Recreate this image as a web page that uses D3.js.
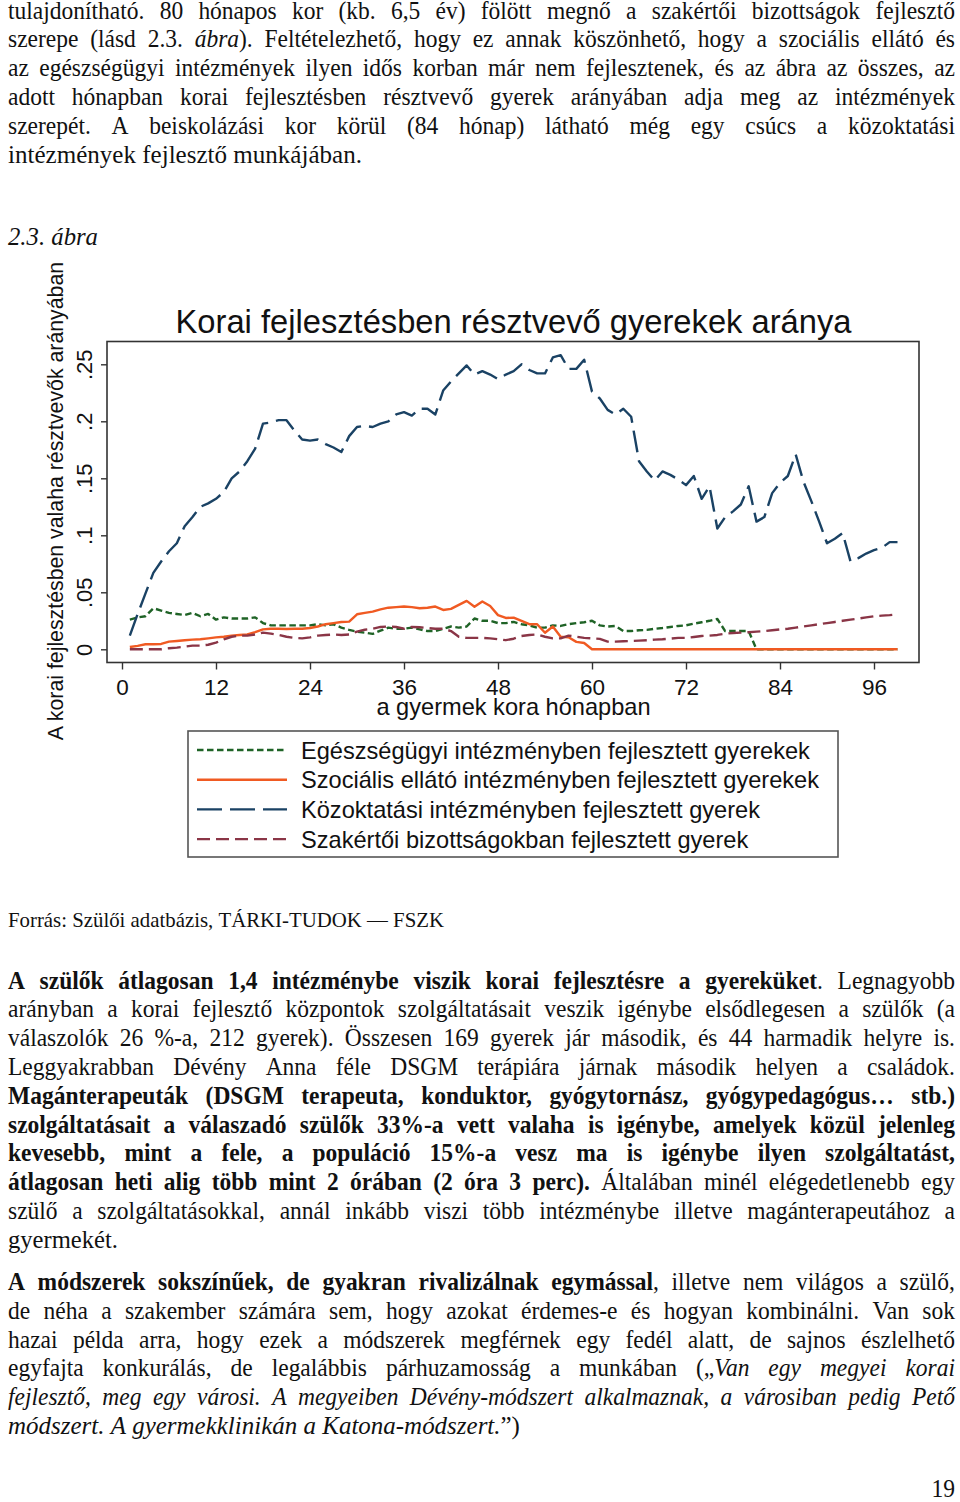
<!DOCTYPE html>
<html><head><meta charset="utf-8">
<script src="https://cdn.jsdelivr.net/npm/d3@7"></script>
<style>body{margin:0;background:#fff} svg{display:block}</style>
</head><body>
<svg id="page" width="960" height="1502"></svg>
<script>
// ---------------- DATA ----------------
const months = d3.range(1, 100);
const xTicks = [0, 12, 24, 36, 48, 60, 72, 84, 96];
const yTicks = [0, 0.05, 0.1, 0.15, 0.2, 0.25];
const yTickLabels = ["0", ".05", ".1", ".15", ".2", ".25"];

const healthSeries = [0.026,0.028,0.029,0.036,0.034,0.032,0.031,0.030,0.032,0.029,
0.031,0.026,0.028,0.027,0.027,0.027,0.028,0.023,0.021,0.021,
0.021,0.021,0.021,0.021,0.022,0.021,0.022,0.019,0.017,0.0155,
0.0146,0.0135,0.0164,0.019,0.018,0.018,0.019,0.0175,0.016,0.016,
0.018,0.020,0.019,0.020,0.027,0.025,0.025,0.023,0.023,0.024,
0.022,0.021,0.019,0.019,0.021,0.0205,0.022,0.023,0.0237,0.025,
0.021,0.020,0.0205,0.016,0.016,0.0167,0.017,0.018,0.0187,0.0196,
0.0205,0.021,0.0225,0.0237,0.025,0.0266,0.016,0.016,0.016,0.016,
0,0,0,0,0,0,0,0,0,0,0,0,0,0,0,0,0,0,0];

const socialSeries = [0.002,0.003,0.0044,0.0044,0.0047,0.0067,0.0073,0.0079,0.0085,0.0088,
0.0096,0.0105,0.011,0.012,0.0126,0.013,0.015,0.0175,0.018,0.018,
0.0178,0.018,0.018,0.0187,0.020,0.022,0.023,0.024,0.0243,0.0307,
0.032,0.033,0.035,0.0365,0.037,0.0375,0.037,0.036,0.0365,0.0375,
0.0345,0.0355,0.039,0.0425,0.0374,0.042,0.038,0.030,0.0275,0.0278,
0.025,0.022,0.022,0.0145,0.020,0.011,0.0105,0.0065,0.0055,0,
0,0,0,0,0,0,0,0,0,0,0,0,0,0,0,0,0,0,0,0,
0,0,0,0,0,0,0,0,0,0,0,0,0,0,0,0,0,0,0];

const schoolSeries = [0.012,0.031,0.049,0.067,0.077,0.086,0.093,0.108,0.116,0.125,
0.128,0.132,0.138,0.150,0.156,0.165,0.176,0.198,0.199,0.201,
0.201,0.192,0.184,0.183,0.184,0.180,0.177,0.173,0.187,0.195,
0.196,0.195,0.198,0.200,0.206,0.208,0.205,0.211,0.211,0.206,
0.227,0.235,0.242,0.249,0.241,0.244,0.241,0.237,0.241,0.244,
0.250,0.245,0.242,0.242,0.256,0.258,0.246,0.246,0.254,0.226,
0.220,0.210,0.206,0.211,0.204,0.165,0.156,0.148,0.156,0.153,
0.149,0.144,0.152,0.132,0.143,0.106,0.116,0.121,0.127,0.143,
0.112,0.116,0.137,0.146,0.152,0.171,0.147,0.130,0.112,0.093,
0.097,0.102,0.077,0.080,0.084,0.087,0.089,0.094,0.094];

const expertSeries = [0,0,0,0,0,0.0009,0.0015,0.0023,0.0032,0.0032,
0.004,0.0058,0.0088,0.011,0.012,0.012,0.013,0.0146,0.0137,0.0126,
0.011,0.010,0.0096,0.0105,0.012,0.0126,0.013,0.0126,0.013,0.0155,
0.0172,0.018,0.0196,0.020,0.0196,0.018,0.0196,0.0193,0.0187,0.018,
0.018,0.016,0.011,0.010,0.010,0.010,0.0096,0.0088,0.008,0.0093,
0.0117,0.0126,0.013,0.011,0.0096,0.0096,0.012,0.011,0.010,0.0096,
0.0091,0.0067,0.0067,0.007,0.0073,0.0076,0.008,0.0085,0.0088,0.0094,
0.010,0.010,0.0108,0.0117,0.012,0.0126,0.0137,0.0143,0.0146,0.015,
0.0155,0.016,0.0167,0.0175,0.018,0.019,0.020,0.021,0.022,0.023,
0.024,0.025,0.026,0.027,0.028,0.029,0.0295,0.030,0.0307];

const seriesNames = [
  "Egészségügyi intézményben fejlesztett gyerekek",
  "Szociális ellátó intézményben fejlesztett gyerekek",
  "Közoktatási intézményben fejlesztett gyerek",
  "Szakértői bizottságokban fejlesztett gyerek"
];
const chartTitle = "Korai fejlesztésben résztvevő gyerekek aránya";
const xTitle = "a gyermek kora hónapban";
const yTitle = "A korai fejlesztésben valaha résztvevők arányában";

// ---------------- TEXT ----------------
const para1 = [
  [["tulajdonítható. 80 hónapos kor (kb. 6,5 év) fölött megnő a szakértői bizottságok fejlesztő","n"]],
  [["szerepe (lásd 2.3. ","n"],["ábra","i"],["). Feltételezhető, hogy ez annak köszönhető, hogy a szociális ellátó és","n"]],
  [["az egészségügyi intézmények ilyen idős korban már nem fejlesztenek, és az ábra az összes, az","n"]],
  [["adott hónapban korai fejlesztésben résztvevő gyerek arányában adja meg az intézmények","n"]],
  [["szerepét. A beiskolázási kor körül (84 hónap) látható még egy csúcs a közoktatási","n"]],
  [["intézmények fejlesztő munkájában.","n"]]
];
const para2 = [
  [["A szülők átlagosan 1,4 intézménybe viszik korai fejlesztésre a gyereküket","b"],[". Legnagyobb","n"]],
  [["arányban a korai fejlesztő központok szolgáltatásait veszik igénybe elsődlegesen a szülők (a","n"]],
  [["válaszolók 26 %-a, 212 gyerek). Összesen 169 gyerek jár második, és 44 harmadik helyre is.","n"]],
  [["Leggyakrabban Dévény Anna féle DSGM terápiára járnak második helyen a családok.","n"]],
  [["Magánterapeuták (DSGM terapeuta, konduktor, gyógytornász, gyógypedagógus… stb.)","b"]],
  [["szolgáltatásait a válaszadó szülők 33%-a vett valaha is igénybe, amelyek közül jelenleg","b"]],
  [["kevesebb, mint a fele, a populáció 15%-a vesz ma is igénybe ilyen szolgáltatást,","b"]],
  [["átlagosan heti alig több mint 2 órában (2 óra 3 perc).","b"],[" Általában minél elégedetlenebb egy","n"]],
  [["szülő a szolgáltatásokkal, annál inkább viszi több intézménybe illetve magánterapeutához a","n"]],
  [["gyermekét.","n"]]
];
const para3 = [
  [["A módszerek sokszínűek, de gyakran rivalizálnak egymással","b"],[", illetve nem világos a szülő,","n"]],
  [["de néha a szakember számára sem, hogy azokat érdemes-e és hogyan kombinálni. Van sok","n"]],
  [["hazai példa arra, hogy ezek a módszerek megférnek egy fedél alatt, de sajnos észlelhető","n"]],
  [["egyfajta konkurálás, de legalábbis párhuzamosság a munkában („","n"],["Van egy megyei korai","i"]],
  [["fejlesztő, meg egy városi. A megyeiben Dévény-módszert alkalmaznak, a városiban pedig Pető","i"]],
  [["módszert. A gyermekklinikán a Katona-módszert.","i"],["”)","n"]]
];
const figLabel = [["2.3. ","i"],["ábra","i"]];
const sourceLine = [["Forrás: Szülői adatbázis, TÁRKI-TUDOK — FSZK","n"]];
const pageNumber = "19";

// ---------------- DRAW ----------------
const svg = d3.select("#page");
const SERIF = "'Liberation Serif', 'Times New Roman', serif";
const SANS = "'Liberation Sans', Arial, sans-serif";
const FS = 23.5;
const VS = 1.06; // slight vertical stretch of the body type
const tg = svg.append("g");

function drawLine(g, segs, x0, base, target, justify, fs) {
  const words = [];
  let cur = [];
  segs.forEach(([t, st]) => {
    t.split(" ").forEach((p, i) => {
      if (i > 0 && cur.length) { words.push(cur); cur = []; }
      if (p) cur.push([p, st]);
    });
  });
  if (cur.length) words.push(cur);
  const nodes = words.map(w => {
    const t = g.append("text").attr("font-family", SERIF).attr("font-size", fs).attr("fill", "#111");
    w.forEach(([p, st]) => t.append("tspan").text(p)
      .attr("font-weight", st === "b" ? "bold" : null)
      .attr("font-style", st === "i" ? "italic" : null));
    return t;
  });
  const widths = nodes.map(n => n.node().getComputedTextLength());
  const sum = d3.sum(widths);
  const sp = fs * 0.25;
  const n = nodes.length;
  const natural = sum + sp * (n - 1);
  let s = 1, gap = sp;
  if (justify) {
    if (natural > target) { s = target / natural; gap = sp * s; }
    else gap = n > 1 ? (target - sum) / (n - 1) : 0;
  } else if (target) { s = target / natural; gap = sp * s; }
  let x = x0;
  nodes.forEach((nd, i) => {
    nd.attr("transform", `translate(${x},${base}) scale(${s},${VS})`);
    x += widths[i] * s + gap;
  });
}

function drawPara(lines, startBase, step, lastWidth) {
  lines.forEach((segs, i) => {
    const last = i === lines.length - 1;
    drawLine(tg, segs, 8, startBase + i * step, last ? lastWidth : 947, !last, FS);
  });
}
drawPara(para1, 18.5, 28.8, 354);
drawLine(tg, figLabel, 8, 244.5, 90, false, FS);
drawLine(tg, sourceLine, 8, 926.5, 436, false, 20.5);
drawPara(para2, 988.5, 28.8, 110);
drawPara(para3, 1290, 28.8, 512);
tg.append("text").attr("transform", `translate(955,1497) scale(1,${VS})`).attr("text-anchor", "end")
  .attr("font-family", SERIF).attr("font-size", FS).attr("fill", "#111").text(pageNumber);

// Chart
const x = d3.scaleLinear().domain([0, 96]).range([122, 874]);
const y = d3.scaleLinear().domain([0, 0.25]).range([649.3, 364.3]);
const frame = {x0: 107, y0: 341.5, x1: 919, y1: 662.5};
const cg = svg.append("g");

cg.append("text").attr("x", 513.5).attr("y", 333).attr("text-anchor", "middle")
  .attr("font-family", SANS).attr("font-size", 32.7).attr("fill", "#111").text(chartTitle);

// axes
const xAxis = cg.append("g").attr("transform", `translate(0,${frame.y1})`)
  .call(d3.axisBottom(x).tickValues(xTicks).tickSize(7).tickPadding(10));
xAxis.select(".domain").remove();
xAxis.selectAll("line").attr("stroke", "#333").attr("stroke-width", 1.4);
xAxis.selectAll("text").attr("font-family", SANS).attr("font-size", 22.5).attr("fill", "#111");

const yAxis = cg.append("g").attr("transform", `translate(${frame.x0},0)`)
  .call(d3.axisLeft(y).tickValues(yTicks).tickSize(6).tickFormat((d, i) => yTickLabels[i]));
yAxis.select(".domain").remove();
yAxis.selectAll("line").attr("stroke", "#333").attr("stroke-width", 1.4);
yAxis.selectAll("text").attr("x", null).attr("dy", null).attr("y", null)
  .attr("transform", "translate(-15,0) rotate(-90)").attr("text-anchor", "middle")
  .attr("font-family", SANS).attr("font-size", 22).attr("fill", "#111");

cg.append("rect").attr("x", frame.x0).attr("y", frame.y0)
  .attr("width", frame.x1 - frame.x0).attr("height", frame.y1 - frame.y0)
  .attr("fill", "none").attr("stroke", "#333").attr("stroke-width", 1.6);

cg.append("text").attr("x", 513.5).attr("y", 715).attr("text-anchor", "middle")
  .attr("font-family", SANS).attr("font-size", 23.6).attr("fill", "#111").text(xTitle);
cg.append("text").attr("transform", "translate(63,501) rotate(-90)").attr("text-anchor", "middle")
  .attr("font-family", SANS).attr("font-size", 21.3).attr("fill", "#111").text(yTitle);

const styles = [
  {data: healthSeries, color: "#1f6326", dash: "6.5,3.5"},
  {data: socialSeries, color: "#f05a22", dash: null},
  {data: schoolSeries, color: "#1a4264", dash: "22,8"},
  {data: expertSeries, color: "#8a3546", dash: "13,6"}
];
const line = d3.line().x((d, i) => x(months[i])).y(d => y(d));
styles.forEach(s => {
  cg.append("path").datum(s.data).attr("d", line)
    .attr("fill", "none").attr("stroke", s.color).attr("stroke-width", 2.4)
    .attr("stroke-dasharray", s.dash).attr("stroke-linejoin", "round");
});

// legend
const lg = cg.append("g");
lg.append("rect").attr("x", 188).attr("y", 731).attr("width", 650).attr("height", 126)
  .attr("fill", "none").attr("stroke", "#555").attr("stroke-width", 1.6);
const legendDash = ["6.5,3.5", null, "25,8", "13,6"];
seriesNames.forEach((name, i) => {
  const cy = 750 + i * 29.7;
  lg.append("line").attr("x1", 197).attr("x2", 287).attr("y1", cy).attr("y2", cy)
    .attr("stroke", styles[i].color).attr("stroke-width", 2.4).attr("stroke-dasharray", legendDash[i]);
  lg.append("text").attr("x", 301).attr("y", cy + 8.5).attr("font-family", SANS)
    .attr("font-size", 23.6).attr("fill", "#111").text(name);
});
</script>
</body></html>
